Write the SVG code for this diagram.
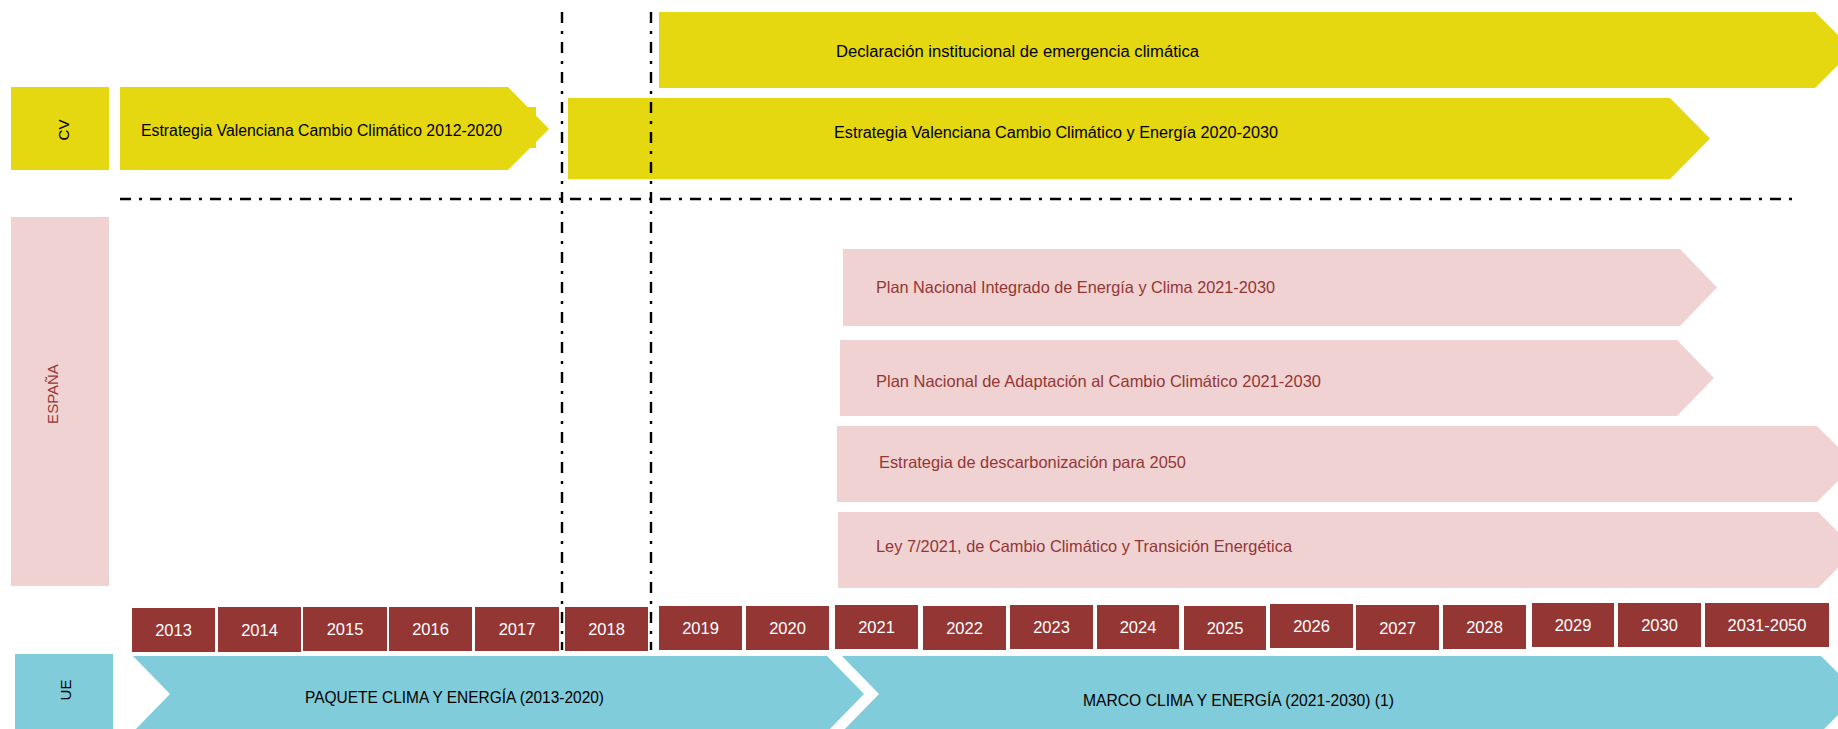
<svg xmlns="http://www.w3.org/2000/svg" width="1838" height="729" viewBox="0 0 1838 729">
<style>
  .y{fill:#E5D710}
  .p{fill:#F0D2D3}
  .c{fill:#80CCDA}
  .r{fill:#943634}
  .t{font-family:"Liberation Sans",Arial,sans-serif;font-size:16px;fill:#000}
  .tp{font-family:"Liberation Sans",Arial,sans-serif;font-size:16.5px;fill:#943634}
  .yr{font-family:"Liberation Sans",Arial,sans-serif;font-size:16.5px;fill:#fff;text-anchor:middle}
  .lab{font-family:"Liberation Sans",Arial,sans-serif;font-size:15px;text-anchor:middle}
  .dd{stroke:#000;stroke-width:2.4;fill:none;stroke-dasharray:11 8 3 8}
</style>
<rect width="1838" height="729" fill="#fff"/>

<g id="cv-label">
  <rect class="y" x="11" y="87" width="98" height="83"/>
  <text class="lab" fill="#000" transform="translate(69,130) rotate(-90)">CV</text>
</g>
<g id="cv-2012-2020">
  <polygon class="y" points="120,87 508,87 549,129 508,170 120,170"/>
  <rect class="y" x="528" y="107" width="8" height="41"/>
  <text class="t" x="141" y="135.5" textLength="361" lengthAdjust="spacingAndGlyphs">Estrategia Valenciana Cambio Climático 2012-2020</text>
</g>
<g id="cv-declaracion">
  <polygon class="y" points="659,12 1815,12 1853,50 1815,88 659,88"/>
  <text class="t" x="836" y="57" textLength="363" lengthAdjust="spacingAndGlyphs">Declaración institucional de emergencia climática</text>
</g>
<g id="cv-2020-2030">
  <polygon class="y" points="568,98 1670,98 1710,138.5 1670,179 568,179"/>
  <text class="t" x="834" y="138" textLength="444" lengthAdjust="spacingAndGlyphs">Estrategia Valenciana Cambio Climático y Energía 2020-2030</text>
</g>

<g id="es-label">
  <rect class="p" x="11" y="217" width="98" height="369"/>
  <text class="lab" fill="#943634" transform="translate(58,394) rotate(-90)">ESPAÑA</text>
</g>
<g id="es-pniec">
  <polygon class="p" points="843,249 1680,249 1717,287.5 1680,326 843,326"/>
  <text class="tp" x="876" y="293" textLength="399" lengthAdjust="spacingAndGlyphs">Plan Nacional Integrado de Energía y Clima 2021-2030</text>
</g>
<g id="es-pnacc">
  <polygon class="p" points="840,340 1677,340 1714,378 1677,416 840,416"/>
  <text class="tp" x="876" y="387" textLength="445" lengthAdjust="spacingAndGlyphs">Plan Nacional de Adaptación al Cambio Climático 2021-2030</text>
</g>
<g id="es-descarbonizacion">
  <polygon class="p" points="837,426 1817,426 1855,464 1817,502 837,502"/>
  <text class="tp" x="879" y="468" textLength="307" lengthAdjust="spacingAndGlyphs">Estrategia de descarbonización para 2050</text>
</g>
<g id="es-ley">
  <polygon class="p" points="838,512 1818,512 1856,550 1818,588 838,588"/>
  <text class="tp" x="876" y="552" textLength="416" lengthAdjust="spacingAndGlyphs">Ley 7/2021, de Cambio Climático y Transición Energética</text>
</g>

<g id="years">
  <g id="y2013"><rect class="r" x="132" y="608" width="83" height="44"/><text class="yr" x="173.5" y="636">2013</text></g>
  <g id="y2014"><rect class="r" x="218" y="607" width="83" height="45"/><text class="yr" x="259.5" y="635.5">2014</text></g>
  <g id="y2015"><rect class="r" x="303" y="607" width="84" height="44"/><text class="yr" x="345" y="635">2015</text></g>
  <g id="y2016"><rect class="r" x="389" y="607" width="83" height="44"/><text class="yr" x="430.5" y="635">2016</text></g>
  <g id="y2017"><rect class="r" x="475" y="607" width="84" height="44"/><text class="yr" x="517" y="635">2017</text></g>
  <g id="y2018"><rect class="r" x="565" y="607" width="83" height="44"/><text class="yr" x="606.5" y="635">2018</text></g>
  <g id="y2019"><rect class="r" x="659" y="606" width="83" height="44"/><text class="yr" x="700.5" y="634">2019</text></g>
  <g id="y2020"><rect class="r" x="746" y="606" width="83" height="44"/><text class="yr" x="787.5" y="634">2020</text></g>
  <g id="y2021"><rect class="r" x="835" y="605" width="83" height="44"/><text class="yr" x="876.5" y="633">2021</text></g>
  <g id="y2022"><rect class="r" x="923" y="606" width="83" height="44"/><text class="yr" x="964.5" y="634">2022</text></g>
  <g id="y2023"><rect class="r" x="1010" y="605" width="83" height="44"/><text class="yr" x="1051.5" y="633">2023</text></g>
  <g id="y2024"><rect class="r" x="1097" y="605" width="82" height="44"/><text class="yr" x="1138" y="633">2024</text></g>
  <g id="y2025"><rect class="r" x="1184" y="606" width="82" height="44"/><text class="yr" x="1225" y="634">2025</text></g>
  <g id="y2026"><rect class="r" x="1270" y="604" width="83" height="44"/><text class="yr" x="1311.5" y="632">2026</text></g>
  <g id="y2027"><rect class="r" x="1356" y="605" width="83" height="45"/><text class="yr" x="1397.5" y="633.5">2027</text></g>
  <g id="y2028"><rect class="r" x="1443" y="605" width="83" height="44"/><text class="yr" x="1484.5" y="633">2028</text></g>
  <g id="y2029"><rect class="r" x="1532" y="603" width="82" height="44"/><text class="yr" x="1573" y="631">2029</text></g>
  <g id="y2030"><rect class="r" x="1618" y="603" width="83" height="44"/><text class="yr" x="1659.5" y="631">2030</text></g>
  <g id="y2031-2050"><rect class="r" x="1705" y="603" width="124" height="44"/><text class="yr" x="1767" y="631">2031-2050</text></g>
</g>

<g id="ue-label">
  <rect class="c" x="15" y="654" width="98" height="80"/>
  <text class="lab" fill="#000" transform="translate(71,690) rotate(-90)">UE</text>
</g>
<g id="ue-paquete">
  <polygon class="c" points="133,656 827,656 864,694 827,732 133,732 170,694"/>
  <text class="t" x="305" y="703" textLength="299" lengthAdjust="spacingAndGlyphs">PAQUETE CLIMA Y ENERGÍA (2013-2020)</text>
</g>
<g id="ue-marco">
  <polygon class="c" points="842,656 1821,656 1859,694 1821,732 842,732 879,694"/>
  <text class="t" x="1083" y="706" textLength="311" lengthAdjust="spacingAndGlyphs">MARCO CLIMA Y ENERGÍA (2021-2030) (1)</text>
</g>

<g id="dividers">
  <line class="dd" x1="120" y1="199" x2="1794" y2="199"/>
  <line class="dd" x1="562" y1="12" x2="562" y2="650"/>
  <line class="dd" x1="651" y1="12" x2="651" y2="650"/>
</g>
</svg>
